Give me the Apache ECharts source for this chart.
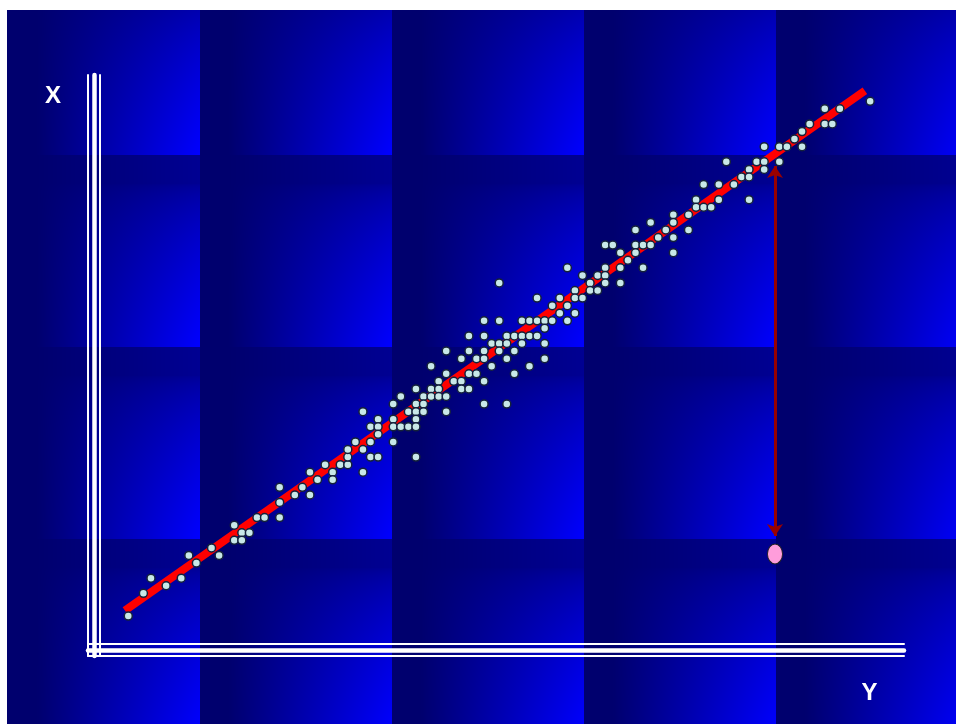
<!DOCTYPE html>
<html><head><meta charset="utf-8">
<script src="https://cdn.jsdelivr.net/npm/echarts@6/dist/echarts.min.js"></script>
<style>html,body{margin:0;padding:0;background:#fff}#c{width:956px;height:724px}</style>
</head><body><div id="c"></div>
<script>
// Horizontal axis ("Y") values of the observations
const hVals = [0,2,3,5,7,8,9,11,12,14,14,15,15,16,
17,18,20,20,20,22,23,24,24,25,26,27,27,28,29,29,29,30,31,31,31,32,32,32,33,33,33,33,
35,35,35,35,36,36,37,37,38,38,38,38,38,38,39,39,39,40,40,40,41,41,41,42,42,42,42,43,44,44,44,45,45,45,45,46,46,
47,47,47,47,47,47,48,48,49,49,49,49,50,50,50,50,51,51,51,52,52,52,53,53,53,54,54,54,55,55,55,55,56,56,57,57,58,58,58,59,59,59,60,60,
61,61,62,62,63,63,63,63,64,65,65,65,66,67,67,67,68,68,69,69,70,71,72,72,72,72,74,74,75,75,76,76,77,78,78,79,
80,81,82,82,82,83,84,84,84,86,86,87,88,89,89,90,92,92,93,94,98];
// Vertical axis ("X") values of the observations
const vVals = [0,3,5,4,5,8,7,9,8,12,10,11,10,11,
13,13,13,15,17,16,17,16,19,18,20,19,18,20,20,21,22,23,22,27,19,25,23,21,26,25,24,21,
28,26,25,23,29,25,27,25,30,28,27,26,25,21,29,28,27,33,30,29,31,30,29,35,32,29,27,31,34,31,30,37,35,32,30,34,32,
39,37,35,34,31,28,36,33,44,39,36,35,37,36,34,28,37,35,32,39,37,36,39,37,33,42,39,37,39,38,36,34,41,39,42,40,46,41,39,43,42,40,45,42,
44,43,45,43,49,46,45,44,49,48,46,44,47,51,49,48,49,46,52,49,50,51,53,52,50,48,53,51,55,54,57,54,54,57,55,60,
57,58,59,58,55,60,62,60,59,62,60,62,63,64,62,65,67,65,65,67,68];
// Fitted line end points
const fitH = [-0.44, 97.3];
const fitV = [0.73, 69.4];
// Outlying observation and its residual arrow
const outlierH = [85.43];
const outlierV = [8.2];
const residualH = 85.43;
const residualV = [10.57, 59.44];
// Axis ranges and titles
const hRange = [-5.32, 102.47];
const vRange = [-5.28, 71.47];
const axisTitles = ['X', 'Y'];

function makeTile(){
  const S=192, c=document.createElement('canvas'); c.width=S; c.height=S;
  const ctx=c.getContext('2d'); const img=ctx.createImageData(S,S);
  const cl=t=>Math.max(0,Math.min(1,t));
  for(let y=0;y<S;y++)for(let x=0;x<S;x++){
    const u=cl(((x+0.5)/S-0.15)/0.85), v=cl(((y+0.5)/S-0.15)/0.85);
    const g=Math.min(1, u*(0.25+0.75*Math.pow(v,0.6)));
    const b=Math.round(110+(255-110)*g);
    const k=(y*S+x)*4; img.data[k]=0; img.data[k+1]=0; img.data[k+2]=b; img.data[k+3]=255;
  }
  ctx.putImageData(img,0,0); return c;
}
const tile=makeTile();
const bg=[];
const colX=[7,200,392,584,776], colW=[193,192,192,192,192];
for(let m=0;m<4;m++)for(let k=0;k<5;k++){
  bg.push({type:'image',z:0,silent:true,style:{image:tile,x:colX[k],y:-37+192*m,width:colW[k],height:192}});
}
bg.push({type:'rect',z:1,silent:true,shape:{x:0,y:0,width:956,height:10},style:{fill:'#fff'}});
bg.push({type:'rect',z:1,silent:true,shape:{x:0,y:0,width:7,height:724},style:{fill:'#fff'}});
bg.push({type:'text',z:6,silent:true,x:53,y:96,style:{text:axisTitles[0],fill:'#fff',font:'bold 24px "Liberation Sans", Arial',textAlign:'center',textVerticalAlign:'middle'}});
bg.push({type:'text',z:6,silent:true,x:869.5,y:693,style:{text:axisTitles[1],fill:'#fff',font:'bold 24px "Liberation Sans", Arial',textAlign:'center',textVerticalAlign:'middle'}});

function mkAxis(pos, off, w, range){
  return {type:'value', position:pos, offset:off, min:range[0], max:range[1], z:3,
    axisLine:{show:true,onZero:false,lineStyle:{color:'#fff',width:w}},
    axisTick:{show:false}, axisLabel:{show:false}, splitLine:{show:false}};
}
const chart=echarts.init(document.getElementById('c'),null,{renderer:'canvas'});
chart.setOption({
  animation:false,
  backgroundColor:'#fff',
  grid:{left:88,right:52,top:75,bottom:68},
  graphic:{elements:bg},
  xAxis:[mkAxis('bottom',0,2,hRange),mkAxis('bottom',-6,4.5,hRange),mkAxis('bottom',-12,2,hRange)],
  yAxis:[mkAxis('left',0,2,vRange),mkAxis('left',-6,4.5,vRange),mkAxis('left',-12,2,vRange)],
  series:[
    {type:'line',z:3,data:fitH.map((h,i)=>[h,fitV[i]]),symbol:'none',lineStyle:{color:'#FF0000',width:8,cap:'butt'},silent:true},
    {type:'scatter',z:5,data:hVals.map((h,i)=>[h,vVals[i]]),symbol:'circle',symbolSize:8,
      itemStyle:{color:'#C8E8E8',borderColor:'#14213a',borderWidth:1.5,opacity:1},silent:true},
    {type:'scatter',z:5,data:outlierH.map((h,i)=>[h,outlierV[i]]),symbol:'circle',symbolSize:[15,20],
      itemStyle:{color:'#FF9DDB',borderColor:'#222',borderWidth:1,opacity:1},silent:true,
      markLine:{silent:true,symbol:['arrow','arrow'],symbolSize:12,label:{show:false},
        lineStyle:{color:'#990000',width:3,type:'solid'},
        data:[[{coord:[residualH,residualV[0]]},{coord:[residualH,residualV[1]]}]]}}
  ]
});
</script></body></html>
